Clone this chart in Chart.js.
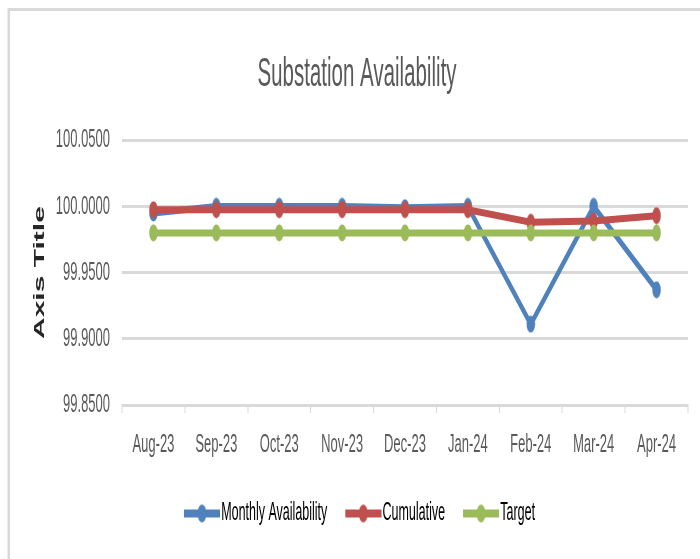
<!DOCTYPE html>
<html>
<head>
<meta charset="utf-8">
<script src="https://cdn.jsdelivr.net/npm/chart.js@4/dist/chart.umd.min.js"></script>
<style>
  html, body { margin: 0; padding: 0; background: #fff; overflow: hidden; }
  /* the reference is a horizontally squeezed chart, so draw wide and squeeze */
  #wrap { width: 1400px; height: 559px; transform: scaleX(0.5); transform-origin: 0 0; }
</style>
</head>
<body>
<div id="wrap"><canvas id="chart" width="1400" height="559"></canvas></div>
<script>
const months = ["Aug-23", "Sep-23", "Oct-23", "Nov-23", "Dec-23", "Jan-24", "Feb-24", "Mar-24", "Apr-24"];
const monthly = [99.995, 100.000, 100.000, 100.000, 99.999, 100.000, 99.911, 100.000, 99.937];
const cumulative = [99.9975, 99.9975, 99.9975, 99.9975, 99.9975, 99.9975, 99.988, 99.989, 99.993];
const target = [99.98, 99.98, 99.98, 99.98, 99.98, 99.98, 99.98, 99.98, 99.98];
const yTicks = [99.85, 99.90, 99.95, 100.00, 100.05];

const FONT = "'Liberation Sans', Arial, sans-serif";

// marker for the points (round, gets squeezed into a tall oval)
function makeDot(color) {
  let c = document.createElement("canvas");
  c.width = 18;
  c.height = 18;
  let ctx = c.getContext("2d");
  ctx.fillStyle = color;
  ctx.beginPath();
  ctx.arc(9, 9, 8.5, 0, Math.PI * 2);
  ctx.fill();
  return c;
}

// legend marker: short line with a dot in the middle.
// drawn on the right part of a wider canvas so it ends next to the text
function makeLegendMark(color) {
  let c = document.createElement("canvas");
  c.width = 92;
  c.height = 20;
  let ctx = c.getContext("2d");
  ctx.fillStyle = color;
  ctx.fillRect(20, 6, 72, 8);
  ctx.beginPath();
  ctx.arc(56, 10, 9, 0, Math.PI * 2);
  ctx.fill();
  return c;
}

const colors = ["#4f81bd", "#c0504d", "#9bbb59"];

function series(label, data, color, order) {
  return {
    label: label,
    data: data,
    order: order,
    borderColor: color,
    backgroundColor: color,
    borderWidth: 7,
    pointStyle: makeDot(color),
    pointRadius: 8,
    pointHoverRadius: 8,
    tension: 0
  };
}

// white background and the outer frame
const framePlugin = {
  id: "frame",
  beforeDraw(chart) {
    let ctx = chart.ctx;
    ctx.save();
    ctx.fillStyle = "#fff";
    ctx.fillRect(0, 0, chart.width, chart.height);
    ctx.fillStyle = "#d9d9d9";
    ctx.fillRect(15, 8, chart.width, 3);
    ctx.fillRect(15, 8, 5, chart.height);
    ctx.restore();
  }
};

new Chart(document.getElementById("chart"), {
  type: "line",
  data: {
    labels: months,
    datasets: [
      series("Monthly Availability", monthly, colors[0], 2),
      series("Cumulative", cumulative, colors[1], 1),
      series("Target", target, colors[2], 0)
    ]
  },
  plugins: [framePlugin],
  options: {
    responsive: false,
    animation: false,
    events: [],
    layout: { padding: { left: 52, right: 24, top: 0, bottom: 23 } },
    plugins: {
      title: {
        display: true,
        text: "Substation Availability",
        color: "#595959",
        font: { family: FONT, size: 41, weight: "normal" },
        padding: { top: 50, bottom: 41 }
      },
      legend: {
        position: "bottom",
        labels: {
          color: "#595959",
          font: { family: FONT, size: 25 },
          usePointStyle: true,
          pointStyleWidth: 72,
          padding: 26,
          generateLabels(chart) {
            return chart.data.datasets.map((ds, i) => ({
              text: ds.label,
              pointStyle: makeLegendMark(colors[i]),
              fillStyle: colors[i],
              strokeStyle: colors[i],
              lineWidth: 0,
              hidden: false,
              datasetIndex: i
            }));
          }
        }
      },
      tooltip: { enabled: false }
    },
    scales: {
      x: {
        offset: true,
        afterFit(scale) { scale.height = 70; },
        grid: {
          offset: true,
          drawOnChartArea: false,
          drawTicks: true,
          tickLength: 8,
          tickColor: "#d9d9d9",
          lineWidth: 2
        },
        border: { display: true, color: "#d9d9d9", width: 3 },
        ticks: {
          color: "#595959",
          font: { family: FONT, size: 26 },
          padding: 16,
          maxRotation: 0,
          autoSkip: false
        }
      },
      y: {
        min: yTicks[0],
        max: yTicks[yTicks.length - 1],
        afterFit(scale) { scale.width = 192; },
        afterBuildTicks(scale) { scale.ticks = yTicks.map(v => ({ value: v })); },
        grid: { color: "#d9d9d9", lineWidth: 3, drawTicks: false },
        border: { display: false },
        ticks: {
          color: "#595959",
          font: { family: FONT, size: 26 },
          padding: 24,
          callback: v => Number(v).toFixed(4)
        },
        title: {
          display: true,
          text: "Axis Title",
          color: "#262626",
          font: { family: FONT, size: 30, weight: "bold" },
          padding: { top: 10, bottom: 0 }
        }
      }
    }
  }
});
</script>
</body>
</html>
